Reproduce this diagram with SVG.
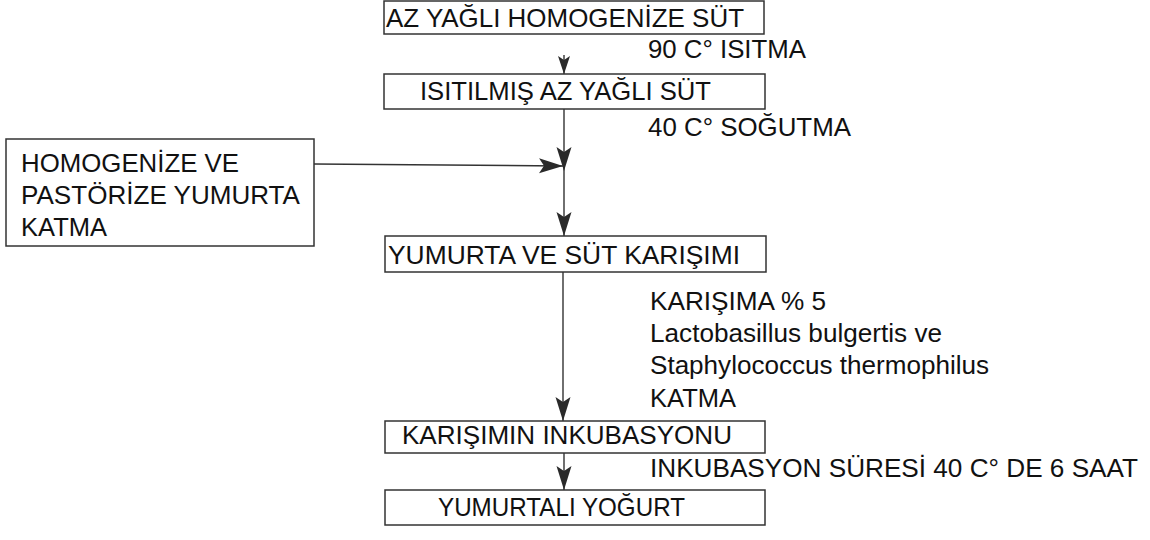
<svg xmlns="http://www.w3.org/2000/svg" width="1150" height="540" viewBox="0 0 1150 540">
<style>
.box{fill:#fff;stroke:#333;stroke-width:1.5}
.t{font-family:"Liberation Sans",Arial,Helvetica,sans-serif;font-size:25px;fill:#111}
.ln{stroke:#333;stroke-width:1.4;fill:none}
</style>
<defs>
<marker id="ah" markerUnits="userSpaceOnUse" markerWidth="26" markerHeight="16" refX="24" refY="8" orient="auto">
<path d="M0,0.5 L24,8 L0,15.5 L5,8 z" fill="#2a2a2a"/>
</marker>
<marker id="ahs" markerUnits="userSpaceOnUse" markerWidth="20" markerHeight="14" refX="18" refY="7" orient="auto">
<path d="M0,1 L18,7 L0,13 L4,7 z" fill="#2a2a2a"/>
</marker>
</defs>
<rect width="1150" height="540" fill="#fff"/>
<g id="connectors">
<line class="ln" x1="564" y1="55" x2="564" y2="74" marker-end="url(#ahs)"/>
<line class="ln" x1="564" y1="109" x2="564" y2="171" marker-end="url(#ah)"/>
<line class="ln" x1="564" y1="171" x2="564" y2="236" marker-end="url(#ah)"/>
<line class="ln" x1="314" y1="164" x2="563" y2="166" marker-end="url(#ah)"/>
<line class="ln" x1="563" y1="272" x2="563" y2="421" marker-end="url(#ah)"/>
<line class="ln" x1="564" y1="453" x2="564" y2="490" marker-end="url(#ah)"/>
</g>
<g id="n1">
<rect class="box" x="384" y="1" width="380" height="33"/>
<text class="t" x="386" y="27" textLength="358" lengthAdjust="spacingAndGlyphs">AZ YAĞLI HOMOGENİZE SÜT</text>
</g>
<g id="l1">
<text class="t" x="648" y="58" textLength="158" lengthAdjust="spacingAndGlyphs">90 C° ISITMA</text>
</g>
<g id="n2">
<rect class="box" x="384" y="74" width="381" height="35"/>
<text class="t" x="420" y="100" textLength="291" lengthAdjust="spacingAndGlyphs">ISITILMIŞ AZ YAĞLI SÜT</text>
</g>
<g id="l2">
<text class="t" x="648" y="136" textLength="203" lengthAdjust="spacingAndGlyphs">40 C° SOĞUTMA</text>
</g>
<g id="n_egg">
<rect class="box" x="6" y="139" width="308" height="107"/>
<text class="t" x="21" y="172" textLength="218" lengthAdjust="spacingAndGlyphs">HOMOGENİZE VE</text>
<text class="t" x="21" y="204" textLength="279" lengthAdjust="spacingAndGlyphs">PASTÖRİZE YUMURTA</text>
<text class="t" x="21" y="236" textLength="86" lengthAdjust="spacingAndGlyphs">KATMA</text>
</g>
<g id="n3">
<rect class="box" x="385" y="236" width="381" height="36"/>
<text class="t" x="388" y="264" textLength="352" lengthAdjust="spacingAndGlyphs">YUMURTA VE SÜT KARIŞIMI</text>
</g>
<g id="l3">
<text class="t" x="650" y="310" textLength="176" lengthAdjust="spacingAndGlyphs">KARIŞIMA % 5</text>
<text class="t" x="650" y="342" textLength="292" lengthAdjust="spacingAndGlyphs">Lactobasillus bulgertis ve</text>
<text class="t" x="650" y="374" textLength="339" lengthAdjust="spacingAndGlyphs">Staphylococcus thermophilus</text>
<text class="t" x="650" y="407" textLength="86" lengthAdjust="spacingAndGlyphs">KATMA</text>
</g>
<g id="n4">
<rect class="box" x="385" y="421" width="380" height="32"/>
<text class="t" x="402" y="444" textLength="330" lengthAdjust="spacingAndGlyphs">KARIŞIMIN INKUBASYONU</text>
</g>
<g id="l4">
<text class="t" x="650" y="477" textLength="488" lengthAdjust="spacingAndGlyphs">INKUBASYON SÜRESİ 40 C° DE 6 SAAT</text>
</g>
<g id="n5">
<rect class="box" x="385" y="490" width="380" height="35"/>
<text class="t" x="438" y="516" textLength="247" lengthAdjust="spacingAndGlyphs">YUMURTALI YOĞURT</text>
</g>
</svg>
